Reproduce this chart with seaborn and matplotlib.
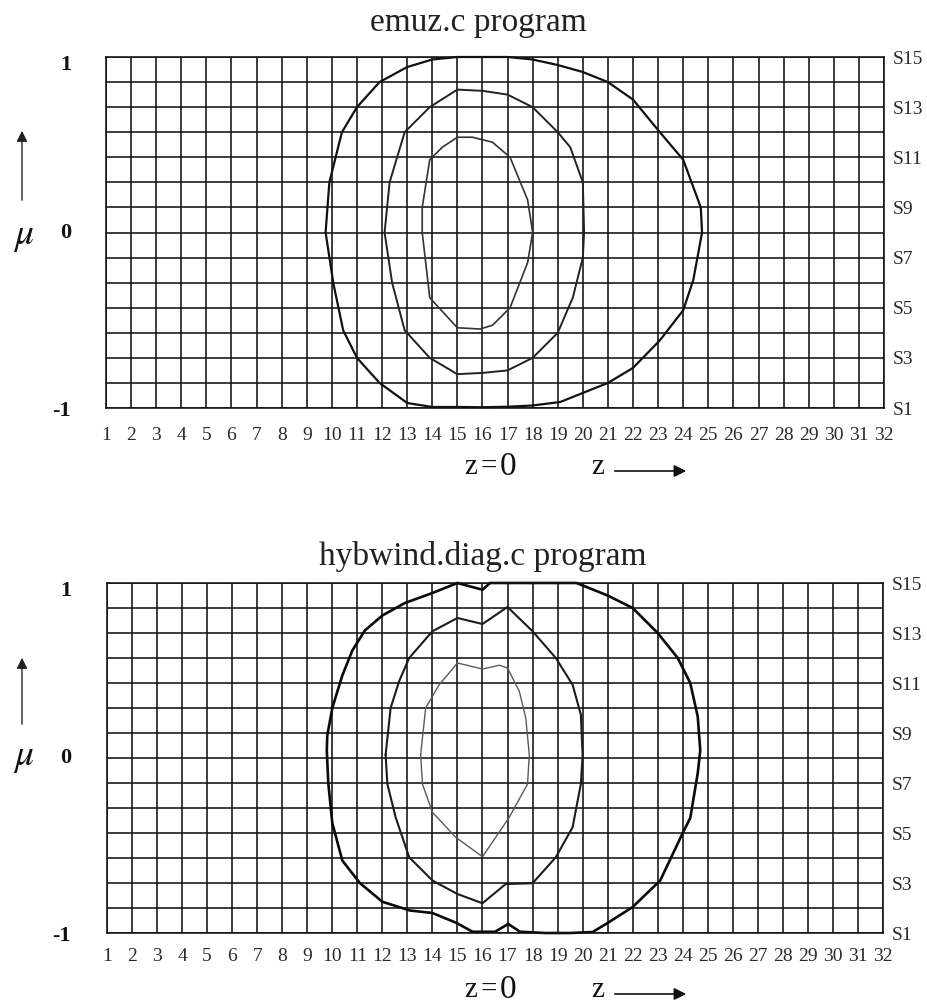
import matplotlib
matplotlib.use("Agg")
import matplotlib.pyplot as plt
import seaborn as sns

# ---- axes values -------------------------------------------------------
z_ticks = list(range(1, 33))                  # z grid points 1..32
s_levels = list(range(1, 16))                 # S1..S15 (mu direction)
s_labels = [f"S{i}" if i % 2 else "" for i in s_levels]
mu_labels = {15: "1", 8: "0", 1: "-1"}

# ---- emuz.c program contours (z, S) ------------------------------------
emuz_outer_z = [15.0, 16.0, 17.0, 18.0, 19.0, 20.0, 21.0, 22.0, 23.07, 24.0, 24.7, 24.75,
                24.4, 24.0, 23.07, 22.0, 21.0, 20.0, 19.1, 18.0, 17.0, 16.0, 15.1, 14.0,
                13.0, 11.9, 11.0, 10.45, 10.06, 9.75, 9.9, 10.4, 11.0, 11.9, 13.0, 14.0, 15.0]
emuz_outer_s = [15.0, 15.0, 15.0, 14.9, 14.68, 14.4, 14.0, 13.3, 12.0, 10.9, 9.0, 8.0,
                6.1, 4.9, 3.7, 2.6, 2.0, 1.6, 1.24, 1.1, 1.05, 1.03, 1.04, 1.04,
                1.2, 2.0, 3.0, 4.1, 5.97, 8.0, 10.0, 12.0, 13.0, 14.0, 14.6, 14.9, 15.0]

emuz_mid_z = [15.0, 16.0, 17.0, 18.0, 19.0, 19.5, 20.0, 20.05, 20.0, 19.6, 19.0, 18.0,
              17.0, 16.0, 15.0, 13.9, 12.9, 12.4, 12.1, 12.3, 12.9, 13.9, 15.0]
emuz_mid_s = [13.7, 13.65, 13.5, 13.0, 12.0, 11.4, 10.0, 8.0, 7.0, 5.4, 4.0, 3.0,
              2.5, 2.4, 2.35, 3.0, 4.1, 6.0, 8.0, 10.0, 12.0, 13.0, 13.7]

emuz_inner_z = [15.0, 15.6, 16.4, 17.1, 17.8, 18.0, 17.8, 17.1, 16.4, 15.9, 15.0, 13.9,
                13.6, 13.6, 13.9, 14.4, 15.0]
emuz_inner_s = [11.8, 11.8, 11.6, 11.0, 9.3, 8.0, 6.8, 5.0, 4.3, 4.15, 4.2, 5.4,
                8.0, 9.0, 10.9, 11.4, 11.8]

# ---- hybwind.diag.c program contours (z, S) ----------------------------
hyb_outer_z = [15.0, 16.0, 16.3, 17.0, 18.0, 19.0, 19.76, 21.0, 22.0, 23.0, 23.8, 24.3,
               24.6, 24.7, 24.6, 24.3, 24.0, 23.1, 22.0, 21.0, 20.4, 19.5, 18.5, 17.5,
               17.03, 16.5, 15.6, 14.97, 14.0, 13.1, 12.0, 11.1, 10.4, 10.0, 9.84, 9.78,
               9.8, 10.0, 10.4, 10.8, 11.3, 12.0, 12.9, 14.0, 15.0]
hyb_outer_s = [15.0, 14.73, 15.0, 15.0, 15.0, 15.0, 15.0, 14.5, 14.0, 13.0, 12.0, 11.0,
               9.65, 8.3, 7.4, 5.6, 5.0, 3.1, 2.04, 1.4, 1.04, 1.0, 1.0, 1.05,
               1.36, 1.05, 1.05, 1.4, 1.8, 1.9, 2.25, 3.0, 3.9, 5.4, 7.0, 8.3,
               8.9, 10.0, 11.3, 12.3, 13.1, 13.7, 14.2, 14.6, 15.0]

hyb_mid_z = [12.13, 12.33, 12.67, 13.07, 14.0, 15.0, 16.0, 17.0, 18.0, 18.93, 19.6, 19.93,
             20.0, 19.93, 19.6, 18.93, 18.0, 16.93, 16.0, 15.0, 14.0, 13.07, 12.53, 12.2, 12.13]
hyb_mid_s = [8.13, 10.0, 11.07, 12.0, 13.07, 13.6, 13.36, 14.04, 13.07, 12.0, 10.93, 9.73,
             8.13, 6.96, 5.23, 4.03, 2.99, 2.96, 2.19, 2.56, 3.1, 4.03, 5.63, 6.96, 8.13]

hyb_inner_z = [13.53, 13.73, 14.27, 15.0, 16.0, 16.67, 17.0, 17.47, 17.73, 17.87, 17.8,
               17.07, 16.0, 14.93, 14.0, 13.6, 13.53]
hyb_inner_s = [8.13, 10.0, 10.93, 11.8, 11.56, 11.71, 11.6, 10.67, 9.6, 8.13, 6.96,
               5.63, 4.05, 4.83, 5.83, 6.96, 8.13]

# ---- figure ------------------------------------------------------------
sns.set_theme(style="white")
plt.rcParams["font.family"] = ["Liberation Serif", "DejaVu Serif"]
plt.rcParams["mathtext.fontset"] = "stix"

W, H = 927, 1006
fig = plt.figure(figsize=(W / 100, H / 100), dpi=100)
fig.patch.set_facecolor("white")
INK = "#121212"


def rect(l, t, r, b):
    return [l / W, 1 - b / H, (r - l) / W, (b - t) / H]


def fxy(x, y):
    return x / W, 1 - y / H


panels = [
    dict(title="emuz.c program", box=(106, 57, 884, 408), title_xy=(478, 31), xpad=14.0,
         contours=[(emuz_outer_z, emuz_outer_s, "#111111", 1.6),
                   (emuz_mid_z, emuz_mid_s, "#222222", 1.4),
                   (emuz_inner_z, emuz_inner_s, "#333333", 1.2)],
         mu_y=237, arrow=(203, 128), zlab_y=467),
    dict(title="hybwind.diag.c program", box=(107, 583, 883, 933), title_xy=(483, 565), xpad=11.0,
         contours=[(hyb_outer_z, hyb_outer_s, "#0a0a0a", 1.9),
                   (hyb_mid_z, hyb_mid_s, "#1c1c1c", 1.5),
                   (hyb_inner_z, hyb_inner_s, "#5a5a5a", 1.0)],
         mu_y=758, arrow=(727, 655), zlab_y=990),
]

for p in panels:
    l, t, r, b = p["box"]
    ax = fig.add_axes(rect(l, t, r, b))
    for zs, ss, col, lw in p["contours"]:
        sns.lineplot(x=zs, y=ss, sort=False, estimator=None, color=col, lw=lw, ax=ax)
    for ln in ax.lines:
        ln.set_clip_on(False)
    ax.set_xlim(1, 32)
    ax.set_ylim(1, 15)
    ax.set_xticks(z_ticks)
    ax.set_xticklabels([str(z) for z in z_ticks])
    ax.set_yticks(s_levels)
    ax.yaxis.tick_right()
    ax.set_yticklabels(s_labels)
    ax.set_xlabel("")
    ax.set_ylabel("")
    ax.tick_params(length=0, labelsize=14, colors="#2a2a2a")
    ax.tick_params(axis="x", pad=p["xpad"])
    ax.tick_params(axis="y", pad=6.5)
    ax.grid(True, color=INK, lw=1.15)
    ax.set_axisbelow(True)
    for sp in ax.spines.values():
        sp.set_visible(True)
        sp.set_color(INK)
        sp.set_linewidth(1.15)

    # title
    fig.text(*fxy(*p["title_xy"]), p["title"], ha="center", va="baseline",
             fontsize=24, color="#222222")

    # mu values on the left
    row_h = (b - t) / 14
    for s, lab in mu_labels.items():
        y = b - (s - 1) * row_h
        if s == 15:
            y += 8
        elif s == 1:
            y += 3
        fig.text(*fxy(71, y), lab, ha="right", va="center", fontsize=16,
                 fontweight="bold", color="#111111")

    # mu axis symbol and arrow
    fig.text(*fxy(24, p["mu_y"]), r"$\mu$", ha="center", va="center",
             fontsize=27, color="#111111")
    y0, y1 = p["arrow"]
    ax.annotate("", xy=fxy(22, y1), xytext=fxy(22, y0), xycoords="figure fraction",
                textcoords="figure fraction", annotation_clip=False,
                arrowprops=dict(arrowstyle="-|>", color="#222222", lw=1.0,
                                mutation_scale=16))

    # z labels under the axis
    zy = p["zlab_y"]
    for ch, cx, fs in (("z", 471, 21), ("=", 489, 21), ("0", 508, 24)):
        fig.text(*fxy(cx, zy), ch, ha="center", va="center", fontsize=fs, color="#111111")
    fig.text(*fxy(598, zy), "z", ha="center", va="center", fontsize=21, color="#111111")
    ax.annotate("", xy=fxy(689, zy + 4), xytext=fxy(612, zy + 4), xycoords="figure fraction",
                textcoords="figure fraction", annotation_clip=False,
                arrowprops=dict(arrowstyle="-|>", color="#111111", lw=1.2,
                                mutation_scale=18))

fig.savefig("out.png", dpi=100, facecolor="white")
